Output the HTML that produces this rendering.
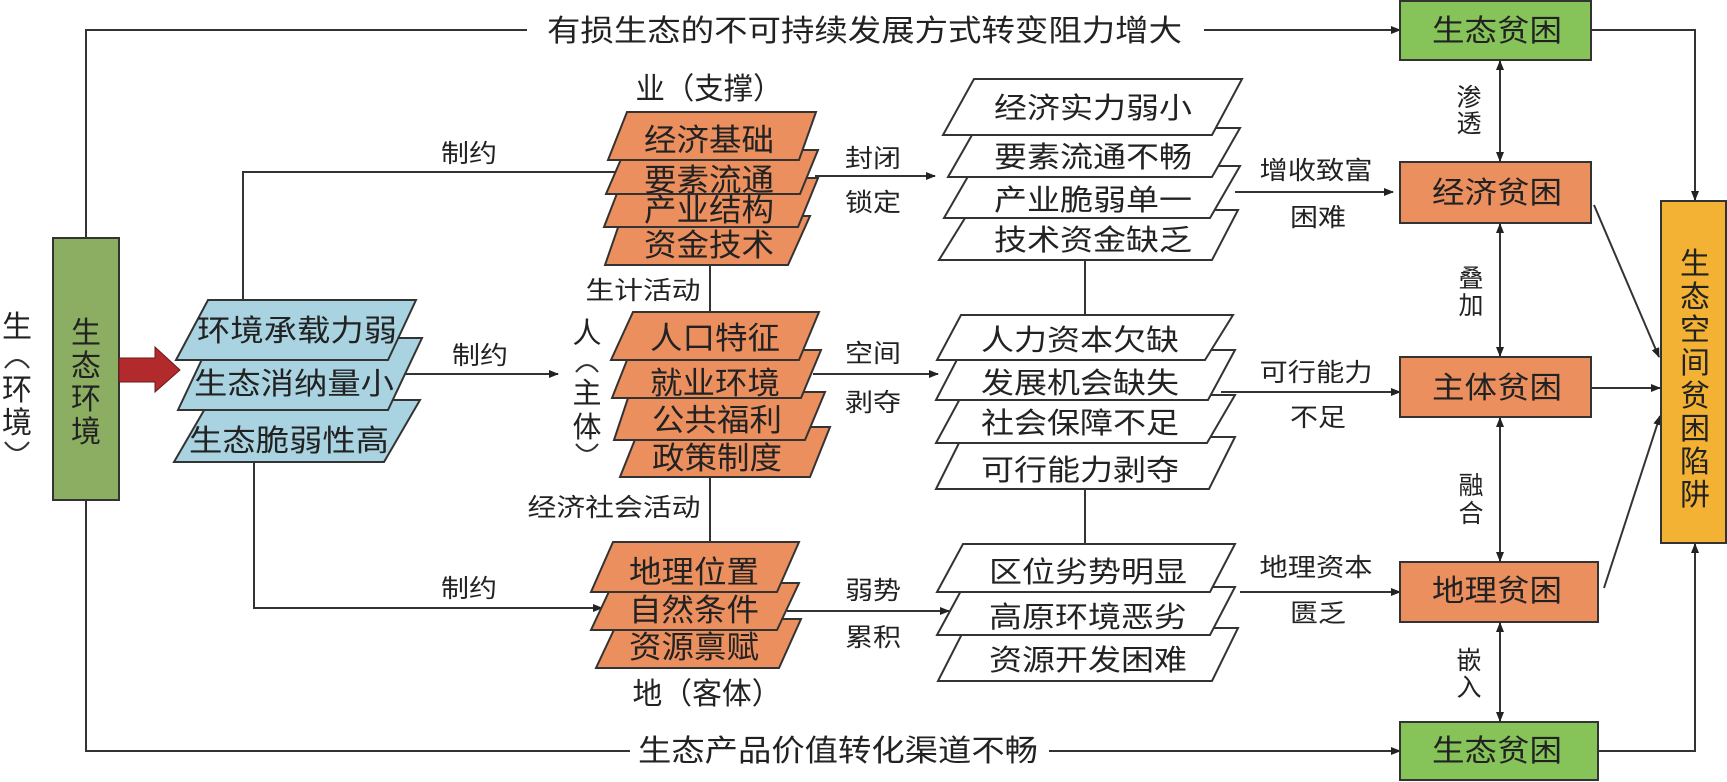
<!DOCTYPE html>
<html><head><meta charset="utf-8"><style>
html,body{margin:0;padding:0;background:#fff;}
svg{display:block;}
text{font-family:"Liberation Sans","Noto Sans CJK SC",sans-serif;fill:#222;}
</style></head><body>
<svg width="1727" height="782" viewBox="0 0 1727 782" xmlns="http://www.w3.org/2000/svg">
<defs>
<marker id="a" markerWidth="10" markerHeight="10" refX="9" refY="5" orient="auto" markerUnits="userSpaceOnUse">
<path d="M0,1 L10,5 L0,9 z" fill="#222"/></marker>
<marker id="s" markerWidth="10" markerHeight="10" refX="1" refY="5" orient="auto" markerUnits="userSpaceOnUse">
<path d="M10,1 L0,5 L10,9 z" fill="#222"/></marker>
</defs>
<g stroke="#333" stroke-width="2" fill="none">
<polyline points="86,238 86,30 527,30"/>
<line x1="1204" y1="30" x2="1400" y2="30" marker-end="url(#a)"/>
<polyline points="86,500 86,751 630,751"/>
<line x1="1049" y1="751" x2="1400" y2="751" marker-end="url(#a)"/>
<polyline points="243,300 243,172 619,172"/>
<line x1="405" y1="374" x2="558" y2="374" marker-end="url(#a)"/>
<polyline points="254,462 254,608 602,608" marker-end="url(#a)"/>
<line x1="710" y1="265" x2="710" y2="312"/>
<line x1="710" y1="477" x2="710" y2="542"/>
<line x1="1085" y1="260" x2="1085" y2="315"/>
<line x1="1085" y1="489" x2="1085" y2="544"/>
<line x1="815" y1="176" x2="935" y2="176" marker-end="url(#a)"/>
<line x1="813" y1="374" x2="938" y2="374" marker-end="url(#a)"/>
<line x1="787" y1="611" x2="949" y2="611" marker-end="url(#a)"/>
<line x1="1235" y1="192" x2="1393" y2="192" marker-end="url(#a)"/>
<line x1="1221" y1="392" x2="1400" y2="392" marker-end="url(#a)"/>
<line x1="1240" y1="592" x2="1400" y2="592" marker-end="url(#a)"/>
<line x1="1500" y1="61" x2="1500" y2="161" marker-start="url(#s)" marker-end="url(#a)"/>
<line x1="1500" y1="224" x2="1500" y2="356" marker-start="url(#s)" marker-end="url(#a)"/>
<line x1="1500" y1="418" x2="1500" y2="561" marker-start="url(#s)" marker-end="url(#a)"/>
<line x1="1500" y1="623" x2="1500" y2="721" marker-start="url(#s)" marker-end="url(#a)"/>
<polyline points="1591,30 1695,30 1695,200" marker-end="url(#a)"/>
<line x1="1594" y1="205" x2="1659" y2="357" marker-end="url(#a)"/>
<line x1="1591" y1="388" x2="1660" y2="388" marker-end="url(#a)"/>
<line x1="1604" y1="588" x2="1660" y2="416" marker-end="url(#a)"/>
<polyline points="1598,751 1695,751 1695,544" marker-end="url(#a)"/>
</g>
<rect x="53" y="238" width="66" height="262" fill="#8cae62" stroke="#333" stroke-width="2"/>
<g font-size="30" text-anchor="middle">
<text x="86" y="343">生</text><text x="86" y="376">态</text><text x="86" y="409">环</text><text x="86" y="442">境</text>
<text x="17" y="337">生</text><text x="17" y="400">环</text><text x="17" y="433">境</text>
</g>
<g stroke="#333" stroke-width="2" fill="none">
<path d="M5,368 Q17,352 29,368"/>
<path d="M5,442 Q17,458 29,442"/>
<path d="M576,372 Q587,358 598,372"/>
<path d="M576,444 Q587,458 598,444"/>
</g>
<polygon points="119,358 155,358 155,347 180,370 155,392 155,382 119,382" fill="#b32a2c" stroke="#6a1a1a" stroke-width="1"/>
<g fill="#a9d3e0" stroke="#333" stroke-width="2">
<polygon points="210,400 420,400 384,462 174,462"/>
<polygon points="212,338 422,338 388,410 178,410"/>
<polygon points="208,300 416,300 388,360 176,360"/>
</g>
<g font-size="30" text-anchor="middle">
<text x="297" y="341" textLength="200" lengthAdjust="spacingAndGlyphs">环境承载力弱</text>
<text x="294" y="394" textLength="200" lengthAdjust="spacingAndGlyphs">生态消纳量小</text>
<text x="289" y="451" textLength="200" lengthAdjust="spacingAndGlyphs">生态脆弱性高</text>
</g>
<g fill="#ec8f5e" stroke="#333" stroke-width="2">
<polygon points="622,216 810,216 788,265 605,265"/>
<polygon points="623,178 818,178 798,227 604,227"/>
<polygon points="625,150 818,150 800,194 606,194"/>
<polygon points="627,112 816,112 799,160 608,160"/>
<polygon points="640,427 830,427 810,477 620,477"/>
<polygon points="630,392 825,392 805,440 614,440"/>
<polygon points="631,350 821,350 801,398 612,398"/>
<polygon points="633,312 819,312 799,360 611,360"/>
<polygon points="619,619 801,619 779,668 596,668"/>
<polygon points="613,583 799,583 777,630 591,630"/>
<polygon points="613,542 799,542 777,592 591,592"/>
</g>
<g font-size="31" text-anchor="middle">
<text x="709" y="151" textLength="130" lengthAdjust="spacingAndGlyphs">经济基础</text>
<text x="709" y="191" textLength="130" lengthAdjust="spacingAndGlyphs">要素流通</text>
<text x="709" y="221" textLength="130" lengthAdjust="spacingAndGlyphs">产业结构</text>
<text x="709" y="256" textLength="130" lengthAdjust="spacingAndGlyphs">资金技术</text>
<text x="715" y="349" textLength="130" lengthAdjust="spacingAndGlyphs">人口特征</text>
<text x="715" y="394" textLength="130" lengthAdjust="spacingAndGlyphs">就业环境</text>
<text x="717" y="431" textLength="130" lengthAdjust="spacingAndGlyphs">公共福利</text>
<text x="717" y="469" textLength="130" lengthAdjust="spacingAndGlyphs">政策制度</text>
<text x="694" y="583" textLength="130" lengthAdjust="spacingAndGlyphs">地理位置</text>
<text x="694" y="621" textLength="130" lengthAdjust="spacingAndGlyphs">自然条件</text>
<text x="694" y="658" textLength="130" lengthAdjust="spacingAndGlyphs">资源禀赋</text>
</g>
<g fill="#fff" stroke="#333" stroke-width="2">
<polygon points="970,210 1238,210 1212,260 939,260"/>
<polygon points="974,166 1240,166 1210,218 944,218"/>
<polygon points="976,128 1240,128 1212,177 948,177"/>
<polygon points="974,79 1242,79 1212,135 943,135"/>
<polygon points="962,437 1235,437 1209,489 936,489"/>
<polygon points="962,395 1235,395 1207,443 936,443"/>
<polygon points="962,350 1235,350 1208,400 936,400"/>
<polygon points="961,315 1233,315 1205,360 937,360"/>
<polygon points="965,628 1238,628 1212,681 938,681"/>
<polygon points="963,587 1235,587 1210,635 937,635"/>
<polygon points="963,544 1235,544 1210,592 937,592"/>
</g>
<g font-size="29" text-anchor="middle">
<text x="1093" y="118" textLength="198" lengthAdjust="spacingAndGlyphs">经济实力弱小</text>
<text x="1093" y="167" textLength="198" lengthAdjust="spacingAndGlyphs">要素流通不畅</text>
<text x="1093" y="210" textLength="198" lengthAdjust="spacingAndGlyphs">产业脆弱单一</text>
<text x="1093" y="250" textLength="198" lengthAdjust="spacingAndGlyphs">技术资金缺乏</text>
<text x="1080" y="350" textLength="198" lengthAdjust="spacingAndGlyphs">人力资本欠缺</text>
<text x="1080" y="393" textLength="198" lengthAdjust="spacingAndGlyphs">发展机会缺失</text>
<text x="1080" y="433" textLength="198" lengthAdjust="spacingAndGlyphs">社会保障不足</text>
<text x="1080" y="480" textLength="198" lengthAdjust="spacingAndGlyphs">可行能力剥夺</text>
<text x="1088" y="582" textLength="198" lengthAdjust="spacingAndGlyphs">区位劣势明显</text>
<text x="1088" y="627" textLength="198" lengthAdjust="spacingAndGlyphs">高原环境恶劣</text>
<text x="1088" y="670" textLength="198" lengthAdjust="spacingAndGlyphs">资源开发困难</text>
</g>
<g stroke="#333" stroke-width="2">
<rect x="1400" y="1" width="191" height="59" fill="#86c45a"/>
<rect x="1400" y="162" width="191" height="61" fill="#ec8f5e"/>
<rect x="1400" y="357" width="191" height="60" fill="#ec8f5e"/>
<rect x="1400" y="562" width="198" height="60" fill="#ec8f5e"/>
<rect x="1400" y="722" width="198" height="58" fill="#86c45a"/>
<rect x="1661" y="201" width="65" height="342" fill="#f3b233"/>
</g>
<g font-size="30" text-anchor="middle">
<text x="1497" y="41" textLength="130" lengthAdjust="spacingAndGlyphs">生态贫困</text>
<text x="1497" y="203" textLength="130" lengthAdjust="spacingAndGlyphs">经济贫困</text>
<text x="1497" y="398" textLength="130" lengthAdjust="spacingAndGlyphs">主体贫困</text>
<text x="1497" y="601" textLength="130" lengthAdjust="spacingAndGlyphs">地理贫困</text>
<text x="1497" y="761" textLength="130" lengthAdjust="spacingAndGlyphs">生态贫困</text>
<text x="1695" y="274">生</text><text x="1695" y="307">态</text><text x="1695" y="340">空</text><text x="1695" y="373">间</text>
<text x="1695" y="406">贫</text><text x="1695" y="439">困</text><text x="1695" y="472">陷</text><text x="1695" y="505">阱</text>
</g>
<g font-size="30">
<text x="547" y="41" textLength="635" lengthAdjust="spacingAndGlyphs">有损生态的不可持续发展方式转变阻力增大</text>
<text x="638" y="761" textLength="400" lengthAdjust="spacingAndGlyphs">生态产品价值转化渠道不畅</text>
<text x="709" y="99" text-anchor="middle" textLength="147" lengthAdjust="spacingAndGlyphs">业（支撑）</text>
<text x="707" y="704" text-anchor="middle" textLength="149" lengthAdjust="spacingAndGlyphs">地（客体）</text>
</g>
<g font-size="29" text-anchor="middle">
<text x="587" y="343">人</text><text x="587" y="403">主</text><text x="587" y="437">体</text>
</g>
<g font-size="25" text-anchor="middle">
<text x="469" y="162" textLength="56" lengthAdjust="spacingAndGlyphs">制约</text>
<text x="480" y="364" textLength="56" lengthAdjust="spacingAndGlyphs">制约</text>
<text x="469" y="597" textLength="56" lengthAdjust="spacingAndGlyphs">制约</text>
<text x="643" y="299" textLength="115" lengthAdjust="spacingAndGlyphs">生计活动</text>
<text x="614" y="516" textLength="173" lengthAdjust="spacingAndGlyphs">经济社会活动</text>
<text x="873" y="167" textLength="56" lengthAdjust="spacingAndGlyphs">封闭</text>
<text x="873" y="211" textLength="56" lengthAdjust="spacingAndGlyphs">锁定</text>
<text x="873" y="362" textLength="56" lengthAdjust="spacingAndGlyphs">空间</text>
<text x="873" y="411" textLength="56" lengthAdjust="spacingAndGlyphs">剥夺</text>
<text x="873" y="599" textLength="56" lengthAdjust="spacingAndGlyphs">弱势</text>
<text x="873" y="646" textLength="56" lengthAdjust="spacingAndGlyphs">累积</text>
<text x="1316" y="179" textLength="113" lengthAdjust="spacingAndGlyphs">增收致富</text>
<text x="1318" y="226" textLength="56" lengthAdjust="spacingAndGlyphs">困难</text>
<text x="1316" y="381" textLength="113" lengthAdjust="spacingAndGlyphs">可行能力</text>
<text x="1318" y="426" textLength="56" lengthAdjust="spacingAndGlyphs">不足</text>
<text x="1316" y="576" textLength="113" lengthAdjust="spacingAndGlyphs">地理资本</text>
<text x="1318" y="622" textLength="56" lengthAdjust="spacingAndGlyphs">匮乏</text>
<text x="1469" y="106">渗</text><text x="1469" y="132">透</text>
<text x="1471" y="287">叠</text><text x="1471" y="314">加</text>
<text x="1471" y="494">融</text><text x="1471" y="522">合</text>
<text x="1469" y="669">嵌</text><text x="1469" y="696">入</text>
</g>
</svg>
</body></html>
